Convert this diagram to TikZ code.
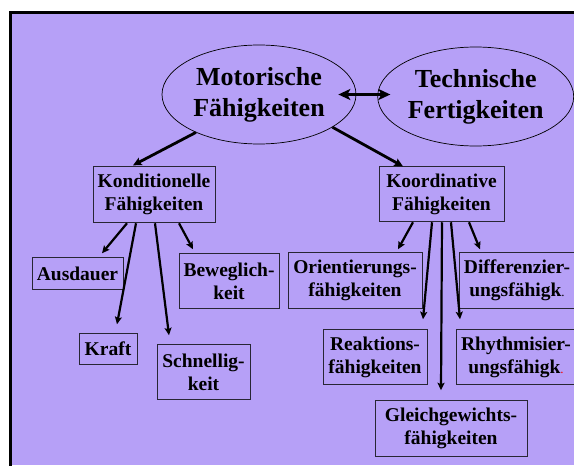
\documentclass[tikz,border=0pt]{standalone}
\usepackage{fontspec}
\setmainfont{Liberation Serif}
\usetikzlibrary{positioning,arrows.meta,shapes.geometric}
\definecolor{lila}{RGB}{182,160,247}
\definecolor{rahmen}{RGB}{40,38,52}

\begin{document}
\begin{tikzpicture}[
    oval/.style={draw=black, ellipse, line width=0.7pt, inner sep=0pt,
                 minimum width=194pt, minimum height=99pt, align=center,
                 font=\fontsize{26}{31}\selectfont\bfseries},
    kasten/.style={draw=rahmen, line width=0.9pt, inner sep=0pt,
                   minimum height=56pt, align=center,
                   font=\fontsize{19.5}{23}\selectfont\bfseries},
    pfeil/.style={-{Stealth[length=7.5pt,width=7pt,inset=1.5pt]}, line width=2.2pt},
    hauptpfeil/.style={-{Stealth[length=8.5pt,width=8pt,inset=1.5pt]}, line width=2.8pt},
    doppelpfeil/.style={{Stealth[length=12pt,width=11pt,inset=3pt]}-{Stealth[length=12pt,width=11pt,inset=3pt]},
                        line width=3pt}]
  \useasboundingbox (0,0) rectangle (574pt,-466pt);
  \fill[lila] (9pt,-11pt) rectangle (580pt,-465pt);
  \draw[line width=3pt] (10.5pt,-466pt) |- (580pt,-12.5pt);

  \node[oval] (mot) at (259pt,-94.5pt) {Motorische\\Fähigkeiten};
  \node[oval, right=21pt of mot, yshift=-2pt, minimum width=196pt] (tech) {Technische\\Fertigkeiten};

  \node[kasten, below=22pt of mot, xshift=-105pt, minimum width=122pt] (kond) {Konditionelle\\Fähigkeiten};
  \node[kasten, below=22pt of mot, xshift=182.5pt, minimum width=125pt, minimum height=55pt] (koord) {Koordinative\\Fähigkeiten};

  \node[kasten, below=34pt of kond, xshift=-76.5pt, minimum width=91pt, minimum height=32pt] (ausd) {Ausdauer};
  \node[kasten, below=30pt of kond, xshift=75pt, minimum width=100pt, minimum height=55pt] (bew) {Beweglich-\\keit};
  \node[kasten, below=110pt of kond, xshift=-46pt, minimum width=58pt, minimum height=31pt] (kraft) {Kraft};
  \node[kasten, below=121pt of kond, xshift=49.5pt, minimum width=93pt, minimum height=55pt] (schnell) {Schnellig-\\keit};

  \node[kasten, below=30pt of koord, xshift=-86.5pt, minimum width=134pt] (orient) {Orientierungs-\\fähigkeiten};
  \node[kasten, below=30pt of koord, xshift=75.5pt, minimum width=116pt] (diff) {Differenzier-\\ungsfähigk{\mdseries\fontsize{13}{13}\selectfont.}};
  \node[kasten, below=107pt of koord, xshift=-66.5pt, minimum width=104pt, minimum height=55pt] (reak) {Reaktions-\\fähigkeiten};
  \node[kasten, below=107pt of koord, xshift=74.5pt, minimum width=120pt, minimum height=55pt] (rhyt) {Rhythmisier-\\ungsfähigk{\mdseries\fontsize{13}{13}\selectfont\color{red}.}};
  \node[kasten, below=178pt of koord, xshift=9.5pt, minimum width=152pt] (gleich) {Gleichgewichts-\\fähigkeiten};

  \draw[doppelpfeil] ([xshift=-18pt]mot.east) -- ([xshift=13pt,yshift=2pt]tech.west);
  \draw[hauptpfeil] (mot.211) -- ([xshift=-21pt,yshift=1pt]kond.north);
  \draw[hauptpfeil] (mot.336) -- ([xshift=-38.5pt]koord.north);

  \draw[pfeil] ([xshift=-27pt]kond.south) -- ([xshift=24.5pt,yshift=4pt]ausd.north);
  \draw[pfeil] ([xshift=-18pt]kond.south) -- ([xshift=9pt,yshift=9pt]kraft.north);
  \draw[pfeil] ([xshift=1pt]kond.south) -- ([xshift=-34.5pt,yshift=9pt]schnell.north);
  \draw[pfeil] ([xshift=25pt]kond.south) -- ([xshift=-36pt,yshift=4pt]bew.north);

  \draw[pfeil] ([xshift=-28.5pt]koord.south) -- ([xshift=43pt,yshift=3pt]orient.north);
  \draw[pfeil] ([xshift=-9.5pt]koord.south) -- ([xshift=48pt,yshift=10pt]reak.north);
  \draw[pfeil] ([xshift=0.5pt]koord.south) -- ([xshift=-10pt,yshift=10pt]gleich.north);
  \draw[pfeil] ([xshift=9.5pt]koord.south) -- ([xshift=-56pt,yshift=10pt]rhyt.north);
  \draw[pfeil] ([xshift=27.5pt]koord.south) -- ([xshift=-37pt,yshift=3pt]diff.north);
\end{tikzpicture}
\end{document}
